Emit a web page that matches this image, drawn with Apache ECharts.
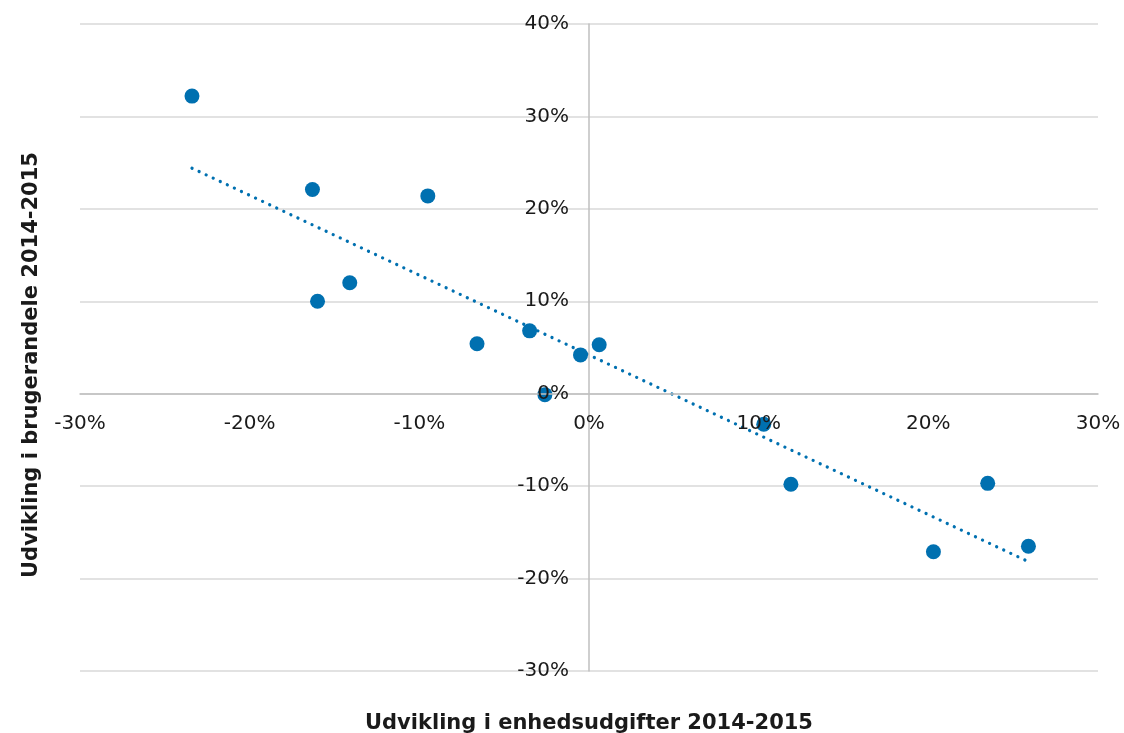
<!DOCTYPE html>
<html>
<head>
<meta charset="utf-8">
<script src="https://cdn.jsdelivr.net/npm/echarts@6/dist/echarts.min.js"></script>
<style>html,body{margin:0;padding:0;background:#fff}#c{width:1124px;height:733px}</style>
</head>
<body>
<div id="c"></div>
<script>
// Development in unit costs (x, %) vs development in user share (y, %)
const xValues = [-23.4, -16.3, -16.0, -14.1, -9.5, -6.6, -3.5, -2.6, -0.5, 0.6, 10.3, 11.9, 20.3, 23.5, 25.9];
const yValues = [32.2, 22.1, 10.0, 12.0, 21.4, 5.4, 6.8, -0.1, 4.2, 5.3, -3.3, -9.8, -17.1, -9.7, -16.5];
// Trendline endpoints
const trendX = [-23.4, 25.7];
const trendY = [24.4, -18.0];
const xTitle = 'Udvikling i enhedsudgifter 2014-2015';
const yTitle = 'Udvikling i brugerandele 2014-2015';

const points = xValues.map((x, i) => [x, yValues[i]]);
const trend = trendX.map((x, i) => [x, trendY[i]]);
const blue = '#0070B0';
const font = '"DejaVu Sans", Verdana, sans-serif';
const gridL = 80, gridR = 26, gridT = 24, gridB = 62;

const chart = echarts.init(document.getElementById('c'), null, {renderer: 'canvas'});
const option = {
  animation: false,
  grid: {left: gridL, right: gridR, top: gridT, bottom: gridB, containLabel: false},
  xAxis: {
    type: 'value', min: -30, max: 30, interval: 10, offset: 0, z: 10,
    axisLine: {onZero: false, lineStyle: {color: '#BFBFBF', width: 1.5}},
    axisTick: {show: false},
    splitLine: {show: false},
    axisLabel: {formatter: v => v + '%', color: '#1a1a1a', fontSize: 20, fontFamily: font, margin: 20}
  },
  yAxis: [
    {
      type: 'value', min: -30, max: 40, interval: 10, offset: 0, z: 10,
      axisLine: {onZero: false, lineStyle: {color: '#BFBFBF', width: 1.5}},
      axisTick: {show: false},
      splitLine: {show: false},
      axisLabel: {formatter: v => v + '%', color: '#1a1a1a', fontSize: 20, fontFamily: font, margin: 20, lineHeight: 26, padding: [6, 0, 0, 0]}
    },
    {
      // gridlines only, drawn beneath the marks
      type: 'value', min: -30, max: 40, interval: 10, position: 'left', z: 0,
      axisLine: {show: false}, axisTick: {show: false}, axisLabel: {show: false},
      splitLine: {show: true, lineStyle: {color: '#D9D9D9', width: 1.5}}
    }
  ],
  graphic: [
    {type: 'text', x: 589, y: 724,
     style: {text: xTitle, font: 'bold 21px ' + font, fill: '#1a1a1a', align: 'center', verticalAlign: 'middle'}},
    {type: 'text', rotation: Math.PI / 2, x: 32, y: 365,
     style: {text: yTitle, font: 'bold 21px ' + font, fill: '#1a1a1a', align: 'center', verticalAlign: 'middle'}}
  ],
  series: [
    {type: 'line', data: trend, symbol: 'none', silent: true, z: 3,
     lineStyle: {color: blue, width: 3.2, type: [0.1, 7.7], cap: 'round'}},
    {type: 'scatter', data: points, symbolSize: 15, z: 4,
     itemStyle: {color: blue, opacity: 1}}
  ]
};
chart.setOption(option);
// Move both axes (line + labels) so they cross at the origin
const origin = chart.convertToPixel({gridIndex: 0}, [0, 0]);
chart.setOption({
  xAxis: {offset: -(733 - gridB - origin[1])},
  yAxis: [{offset: -(origin[0] - gridL)}, {}]
});
</script>
</body>
</html>
